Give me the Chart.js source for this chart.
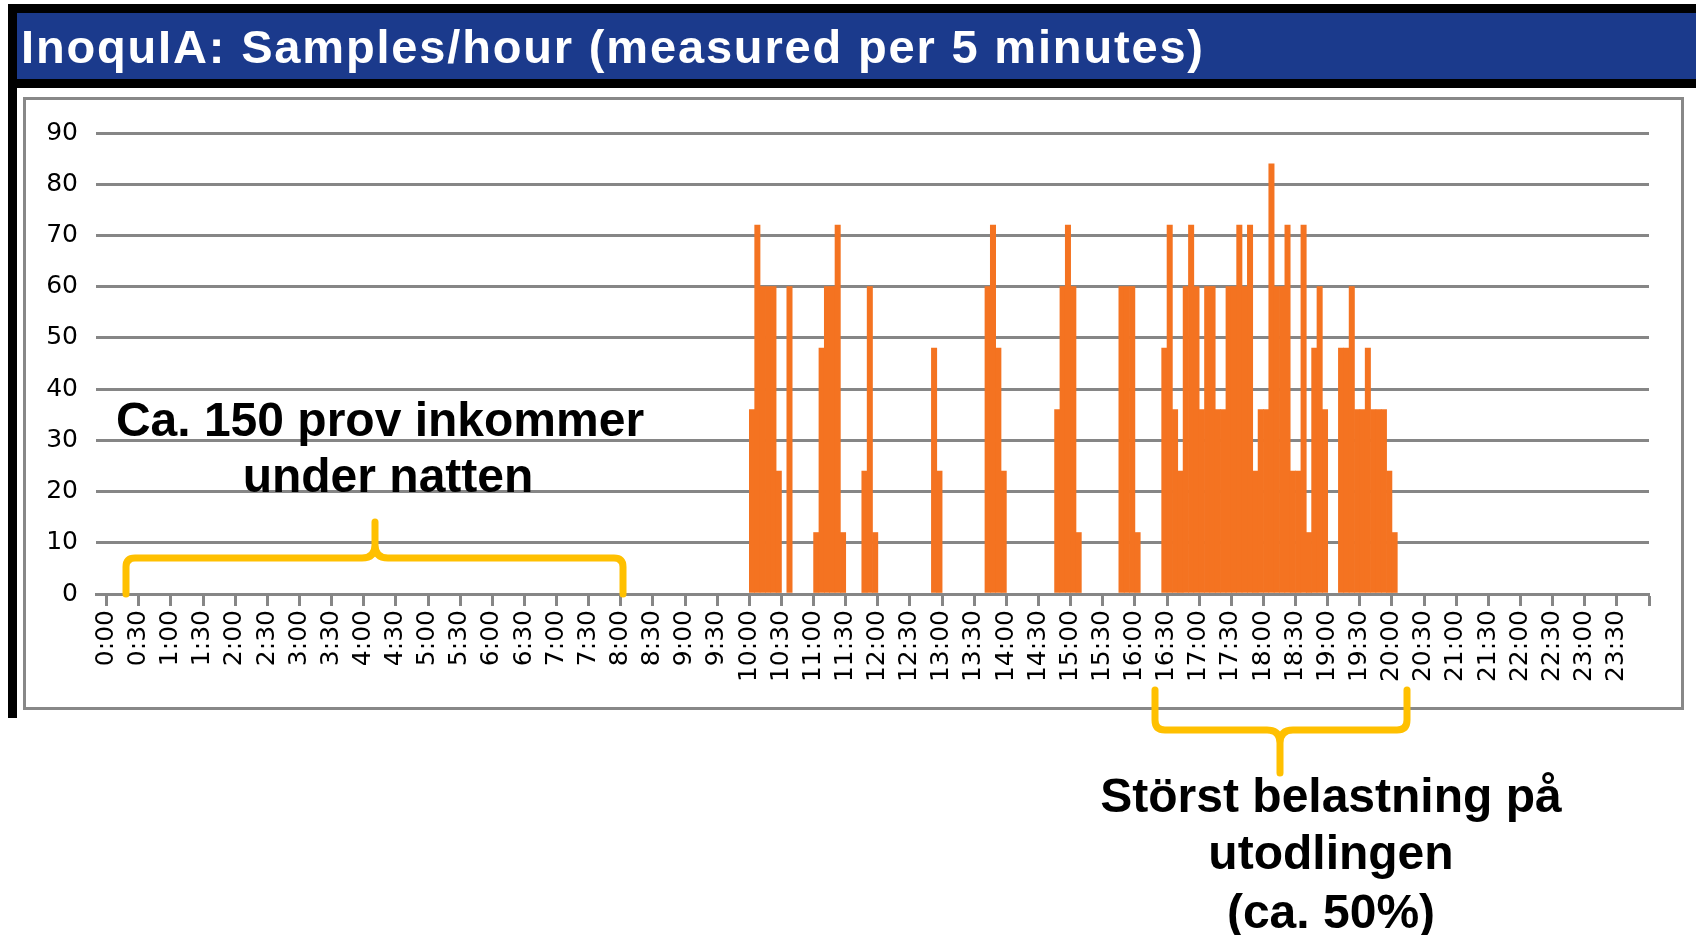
<!DOCTYPE html>
<html>
<head>
<meta charset="utf-8">
<script src="https://cdn.jsdelivr.net/npm/chart.js@4.4.1/dist/chart.umd.min.js"></script>
<style>
  body { margin: 0; background: #fff; width: 1696px; height: 935px; overflow: hidden; position: relative; }
  .abs { position: absolute; }
</style>
</head>
<body>
<div class="abs" style="left:8px;top:4px;width:1688px;height:84px;background:#000"></div>
<div class="abs" style="left:8px;top:4px;width:9px;height:714px;background:#000"></div>
<div class="abs" style="left:17px;top:13px;width:1679px;height:66px;background:#1b3a8c"></div>
<div class="abs" style="left:23px;top:97px;width:1655px;height:607px;border:3px solid #888"></div>
<canvas id="chart" class="abs" width="1696" height="935" style="left:0;top:0"></canvas>
<svg class="abs" width="1696" height="935" style="left:0;top:0" font-family="Liberation Sans, Arial, sans-serif">
  <text x="21" y="63" font-size="47" font-weight="bold" fill="#fff" textLength="1182" lengthAdjust="spacing">InoquIA: Samples/hour (measured per 5 minutes)</text>
  <g fill="none" stroke="#ffc000" stroke-width="7" stroke-linecap="round" stroke-linejoin="round">
    <path d="M126,594 L126,567 Q126,558 135,558 L362,558 Q375,558 375,545 L375,522 M375,545 Q375,558 388,558 L614,558 Q623,558 623,567 L623,594"/>
    <path d="M1155,690 L1155,720 Q1155,730 1165,730 L1267,730 Q1280,730 1280,743 L1280,773 M1280,743 Q1280,730 1293,730 L1397,730 Q1407,730 1407,720 L1407,690"/>
  </g>
  <g font-size="48" font-weight="bold" fill="#000" text-anchor="middle">
    <text x="380" y="436">Ca. 150 prov inkommer</text>
    <text x="388" y="492">under natten</text>
    <text x="1331" y="812">Störst belastning på</text>
    <text x="1331" y="869">utodlingen</text>
    <text x="1331" y="928">(ca. 50%)</text>
  </g>
</svg>
<script>
// half-hour tick labels on the time axis
const tickLabels = [
  '0:00','0:30','1:00','1:30','2:00','2:30','3:00','3:30','4:00','4:30','5:00','5:30',
  '6:00','6:30','7:00','7:30','8:00','8:30','9:00','9:30','10:00','10:30','11:00','11:30',
  '12:00','12:30','13:00','13:30','14:00','14:30','15:00','15:30','16:00','16:30','17:00','17:30',
  '18:00','18:30','19:00','19:30','20:00','20:30','21:00','21:30','22:00','22:30','23:00','23:30'
];

// samples/hour per 5-minute slot, one row per hour (10:00 - 20:00), rest of the day is 0
const h10 = [36, 72, 60, 60, 60, 24, 0, 60, 0, 0, 0, 0];
const h11 = [12, 48, 60, 60, 72, 12, 0, 0, 0, 24, 60, 12];
const h12 = [0, 0, 0, 0, 0, 0, 0, 0, 0, 0, 48, 24];
const h13 = [0, 0, 0, 0, 0, 0, 0, 0, 60, 72, 48, 24];
const h14 = [0, 0, 0, 0, 0, 0, 0, 0, 0, 36, 60, 72];
const h15 = [60, 12, 0, 0, 0, 0, 0, 0, 0, 60, 60, 60];
const h16 = [12, 0, 0, 0, 0, 48, 72, 36, 24, 60, 72, 60];
const h17 = [36, 60, 60, 36, 36, 60, 60, 72, 60, 72, 24, 36];
const h18 = [36, 84, 60, 60, 72, 24, 24, 72, 12, 48, 60, 36];
const h19 = [0, 0, 48, 48, 60, 36, 36, 48, 36, 36, 36, 24];
const h20 = [12];

const leadSlots = 2;      // axis starts two slots before 0:00
const firstHour = 10;

const labels = [];
for (let i = 0; i < leadSlots; i++) labels.push('');
tickLabels.forEach(t => { labels.push(t, '', '', '', '', ''); });

const values = new Array(labels.length).fill(0);
const hours = [h10, h11, h12, h13, h14, h15, h16, h17, h18, h19, h20];
hours.forEach((row, h) => {
  row.forEach((v, k) => { values[leadSlots + (firstHour + h) * 12 + k] = v; });
});
// empty slots drawn as nothing (no sliver on the axis)
const barData = values.map(v => v === 0 ? null : v);

const axisFont = { family: 'DejaVu Sans', size: 25 };
const gridGrey = '#868686';

new Chart(document.getElementById('chart'), {
  type: 'bar',
  data: {
    labels: labels,
    datasets: [{
      label: 'Samples/hour',
      data: barData,
      backgroundColor: '#f47321',
      borderWidth: 0,
      barPercentage: 1,
      categoryPercentage: 1
    }]
  },
  options: {
    responsive: false,
    animation: false,
    layout: { padding: { left: 0, right: 47, top: 133, bottom: 221 } },
    plugins: { legend: { display: false }, tooltip: { enabled: false } },
    scales: {
      x: {
        grid: {
          drawOnChartArea: false,
          drawTicks: true,
          tickLength: 12,
          tickWidth: 3,
          tickColor: ctx => (ctx.index === undefined || (ctx.index - leadSlots) % 6 === 0) ? gridGrey : 'rgba(0,0,0,0)'
        },
        border: { color: gridGrey, width: 3 },
        ticks: {
          autoSkip: false,
          minRotation: 90,
          maxRotation: 90,
          color: '#000',
          font: axisFont,
          padding: 4,
          labelOffset: -3
        },
        afterFit: s => { s.height = 120; }
      },
      y: {
        min: 0,
        max: 90,
        ticks: { stepSize: 10, color: '#000', font: axisFont, padding: 18 },
        grid: { color: gridGrey, lineWidth: 3, drawTicks: false },
        border: { display: false },
        afterFit: s => { s.width = 96; }
      }
    }
  }
});
</script>
</body>
</html>
